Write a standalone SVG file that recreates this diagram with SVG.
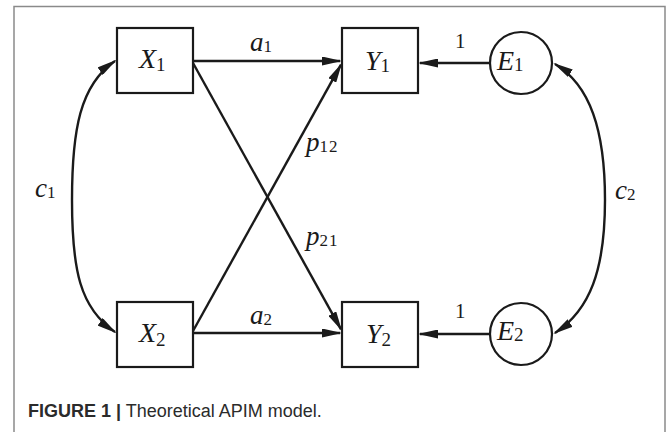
<svg xmlns="http://www.w3.org/2000/svg" width="669" height="432" viewBox="0 0 669 432">
<style>
.box{fill:#fff;stroke:#1a1a1a;stroke-width:2.2}
.ln{fill:none;stroke:#1a1a1a;stroke-width:2.4}
.m{font-family:"Liberation Serif","Times New Roman",serif;font-style:italic;font-size:28px;fill:#1a1a1a}
.s{font-family:"Liberation Serif","Times New Roman",serif;font-style:normal;font-size:19px;fill:#1a1a1a}
.lab{font-family:"Liberation Serif","Times New Roman",serif;font-style:italic;font-size:27px;fill:#1a1a1a}
.ls{font-family:"Liberation Serif","Times New Roman",serif;font-style:normal;font-size:17px;fill:#1a1a1a}
.one{font-family:"Liberation Serif","Times New Roman",serif;font-size:21px;fill:#1a1a1a}
.cap{font-family:"Liberation Sans",Arial,sans-serif;font-size:18px;fill:#2b2b2b}
</style>
<defs>
<marker id="ah" viewBox="0 0 20 9" refX="18" refY="4.5" markerWidth="20" markerHeight="9" markerUnits="userSpaceOnUse" orient="auto-start-reverse">
<path d="M0,0 L20,4.5 L0,9 z" fill="#1a1a1a"/>
</marker>
</defs>
<rect width="669" height="432" fill="#fff"/>
<path d="M14,432 V6.5 H665 V432" fill="none" stroke="#8a8a8a" stroke-width="1.5"/>

<g id="connectors">
<path class="ln" d="M193,61 H340" marker-end="url(#ah)"/>
<path class="ln" d="M193,333 H340" marker-end="url(#ah)"/>
<path class="ln" d="M193,63 L341,329.3" marker-end="url(#ah)"/>
<path class="ln" d="M193,331 L341,64.7" marker-end="url(#ah)"/>
<path class="ln" d="M490,63 H420" marker-end="url(#ah)"/>
<path class="ln" d="M490,334 H420" marker-end="url(#ah)"/>
<path class="ln" d="M115,61 C80,85 72,130 72,200 C72,270 80,308 115,332" marker-start="url(#ah)" marker-end="url(#ah)"/>
<path class="ln" d="M555,64 C590,85 605,130 605,200 C605,270 590,310 555,333" marker-start="url(#ah)" marker-end="url(#ah)"/>
<text class="lab" x="250" y="51">a<tspan class="ls" dy="1">1</tspan></text>
<text class="lab" x="250" y="324">a<tspan class="ls" dy="1">2</tspan></text>
<text class="lab" x="306" y="151">p<tspan class="ls" dy="1" letter-spacing="1">12</tspan></text>
<text class="lab" x="306" y="245">p<tspan class="ls" dy="1" letter-spacing="1">21</tspan></text>
<text class="one" x="455" y="48">1</text>
<text class="one" x="455" y="318">1</text>
<text class="lab" x="35" y="197">c<tspan class="ls" dy="1">1</tspan></text>
<text class="lab" x="615" y="199">c<tspan class="ls" dy="1">2</tspan></text>
</g>

<g id="X1">
<rect class="box" x="117" y="28" width="76" height="65"/>
<text class="m" x="139" y="68">X<tspan class="s" dx="0" dy="3">1</tspan></text>
</g>
<g id="Y1">
<rect class="box" x="342" y="28" width="76" height="65"/>
<text class="m" x="365" y="70">Y<tspan class="s" dx="0" dy="2">1</tspan></text>
</g>
<g id="E1">
<circle cx="521" cy="63" r="31" fill="#fff" stroke="#1a1a1a" stroke-width="2.2"/>
<text class="m" x="497" y="70">E<tspan class="s" dy="1">1</tspan></text>
</g>
<g id="X2">
<rect class="box" x="117" y="302" width="76" height="65"/>
<text class="m" x="139" y="342">X<tspan class="s" dx="0" dy="4">2</tspan></text>
</g>
<g id="Y2">
<rect class="box" x="342" y="302" width="76" height="65"/>
<text class="m" x="366" y="343">Y<tspan class="s" dy="3">2</tspan></text>
</g>
<g id="E2">
<circle cx="521" cy="334" r="31" fill="#fff" stroke="#1a1a1a" stroke-width="2.2"/>
<text class="m" x="497" y="340">E<tspan class="s" dy="1">2</tspan></text>
</g>

<text class="cap" x="28" y="417"><tspan font-weight="bold">FIGURE 1 |</tspan> Theoretical APIM model.</text>
</svg>
